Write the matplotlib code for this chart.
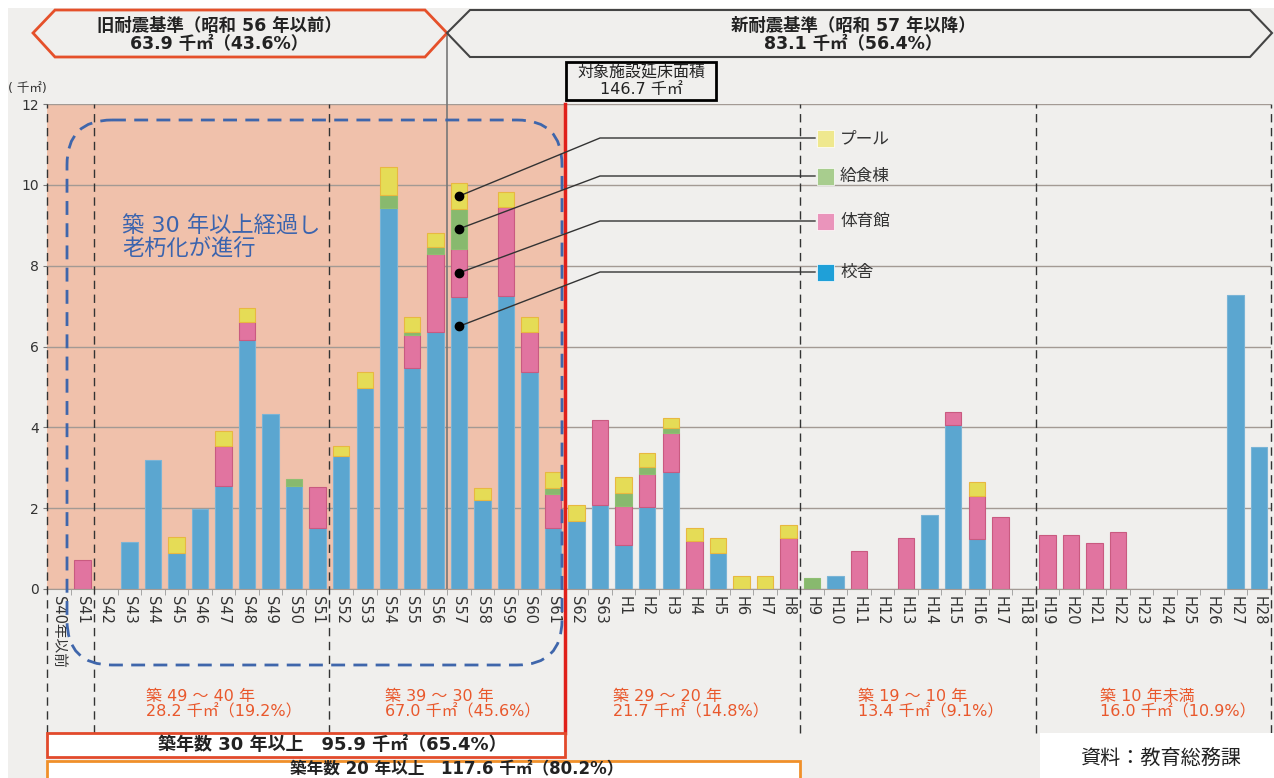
import matplotlib.pyplot as plt
from matplotlib.patches import Polygon, Rectangle, FancyBboxPatch
import numpy as np

plt.rcParams['font.family'] = ['DejaVu Sans', 'Noto Sans CJK JP']

# ---- data (千㎡) ----
years = ['S40年以前', 'S41', 'S42', 'S43', 'S44', 'S45', 'S46', 'S47', 'S48', 'S49',
         'S50', 'S51', 'S52', 'S53', 'S54', 'S55', 'S56', 'S57', 'S58', 'S59',
         'S60', 'S61', 'S62', 'S63', 'H1', 'H2', 'H3', 'H4', 'H5', 'H6',
         'H7', 'H8', 'H9', 'H10', 'H11', 'H12', 'H13', 'H14', 'H15', 'H16',
         'H17', 'H18', 'H19', 'H20', 'H21', 'H22', 'H23', 'H24', 'H25', 'H26',
         'H27', 'H28']
kosha = [0, 0, 0, 1.17, 3.20, 0.90, 1.98, 2.55, 6.16, 4.34,
         2.56, 1.51, 3.28, 4.98, 9.43, 5.47, 6.35, 7.22, 2.19, 7.25,
         5.37, 1.51, 1.69, 2.07, 1.10, 2.02, 2.90, 0, 0.88, 0,
         0, 0, 0, 0.31, 0, 0, 0, 1.82, 4.07, 1.23,
         0, 0, 0, 0, 0, 0, 0, 0, 0, 0,
         7.27, 3.52]
taiikukan = [0, 0.72, 0, 0, 0, 0, 0, 0.99, 0.44, 0,
             0, 1.01, 0, 0, 0, 0.81, 1.93, 1.20, 0, 2.19,
             0.99, 0.84, 0, 2.12, 0.96, 0.83, 0.96, 1.18, 0, 0,
             0, 1.25, 0, 0, 0.93, 0, 1.26, 0, 0.32, 1.08,
             1.77, 0, 1.33, 1.33, 1.13, 1.41, 0, 0, 0, 0,
             0, 0]
kyushoku = [0, 0, 0, 0, 0, 0, 0, 0, 0, 0,
            0.17, 0, 0, 0, 0.31, 0.08, 0.19, 0.98, 0, 0,
            0, 0.15, 0, 0, 0.32, 0.18, 0.12, 0, 0, 0,
            0, 0, 0.26, 0, 0, 0, 0, 0, 0, 0,
            0, 0, 0, 0, 0, 0, 0, 0, 0, 0,
            0, 0]
pool = [0, 0, 0, 0, 0, 0.38, 0, 0.38, 0.35, 0,
        0, 0, 0.27, 0.39, 0.70, 0.38, 0.33, 0.64, 0.31, 0.38,
        0.37, 0.40, 0.38, 0, 0.40, 0.34, 0.26, 0.33, 0.39, 0.33,
        0.33, 0.33, 0, 0, 0, 0, 0, 0, 0, 0.33,
        0, 0, 0, 0, 0, 0, 0, 0, 0, 0,
        0, 0]

# name, values, face, edge, legend swatch
series = [('校舎', kosha, '#5ba6d0', '#7ab4d6', '#1fa0d8'),
          ('体育館', taiikukan, '#e174a0', '#c95a80', '#ea94bb'),
          ('給食棟', kyushoku, '#88b96e', '#8fbf72', '#a8cd8e'),
          ('プール', pool, '#e5dc56', '#e8b840', '#efe88e')]

age_groups = [('築 49 ～ 40 年', '28.2 千㎡（19.2%）'),
              ('築 39 ～ 30 年', '67.0 千㎡（45.6%）'),
              ('築 29 ～ 20 年', '21.7 千㎡（14.8%）'),
              ('築 19 ～ 10 年', '13.4 千㎡（9.1%）'),
              ('築 10 年未満', '16.0 千㎡（10.9%）')]

W, H = 1274, 778
fig = plt.figure(figsize=(W / 100, H / 100), dpi=100)
fig.patch.set_facecolor('white')

# background panel
bg = fig.add_axes([0, 0, 1, 1], zorder=0)
bg.set_xlim(0, W); bg.set_ylim(H, 0); bg.axis('off')
bg.add_patch(Rectangle((8, 8), W - 8, H - 8, color='#f0efed', lw=0))

# ---- main bar chart ----
ax = fig.add_axes([47 / W, (H - 589) / H, (1271 - 47) / W, (589 - 104) / H], zorder=1)
ax.patch.set_alpha(0)
x = np.arange(len(years))
ax.set_xlim(-0.5, len(years) - 0.5)
ax.set_ylim(0, 12)
ax.axvspan(-0.5, 21.5, color='#f0c1ab', lw=0, zorder=0)

bottom = np.zeros(len(years))
for name, vals, fc, ec, _ in series:
    vals = np.array(vals)
    m = vals > 0
    ax.bar(x[m], vals[m], 0.7, bottom=bottom[m], color=fc, edgecolor=ec, lw=0.8, zorder=2)
    bottom += vals

ax.set_yticks(range(0, 13, 2))
ax.yaxis.grid(True, color='#a39a94', lw=1)
ax.set_axisbelow(True)
for s in ['top', 'right', 'left']:
    ax.spines[s].set_visible(False)
ax.spines['bottom'].set_color('#a39a94')
ax.tick_params(axis='y', length=3, color='#777', labelsize=10, labelcolor='#333', pad=3)
ax.set_xticks(x)
ax.set_xticklabels(years, rotation=-90, fontsize=10.5, color='#333')
ax.tick_params(axis='x', length=0, pad=5)
ax.set_xticks(np.arange(-0.5, len(years), 1), minor=True)
ax.tick_params(axis='x', which='minor', length=4, color='#999')

# section dividers
lo = (589 - 733) / (589 - 104)
for xv in [-0.5, 1.5, 11.5, 31.5, 41.5, 51.5]:
    ax.axvline(xv, ymin=lo, ymax=1, color='#333', lw=1, ls=(0, (6, 4)), clip_on=False, zorder=3)
ax.axvline(21.5, ymin=lo, ymax=1, color='#e0201a', lw=2.5, clip_on=False, zorder=4)
ax.axvline(16.5, ymin=0, ymax=(589 - 33) / (589 - 104), color='#777', lw=1.2, clip_on=False, zorder=1)

# ---- overlay in pixel coordinates ----
ov = fig.add_axes([0, 0, 1, 1], zorder=3)
ov.set_xlim(0, W); ov.set_ylim(H, 0); ov.axis('off'); ov.patch.set_alpha(0)


def to_px(xd, yd):
    return ov.transData.inverted().transform(ax.transData.transform((xd, yd)))


# header arrows
ov.add_patch(Polygon([(33, 33), (55, 10), (425, 10), (447, 33), (425, 57), (55, 57)],
                     closed=True, fill=False, ec='#e5502a', lw=2))
ov.add_patch(Polygon([(447, 33), (470, 10), (1250, 10), (1272, 33), (1250, 57), (470, 57)],
                     closed=True, fill=False, ec='#444', lw=1.5))
hdr = dict(ha='center', va='center', fontsize=12.5, fontweight='bold', color='#222')
ov.text(219, 26, '旧耐震基準（昭和 56 年以前）', **hdr)
ov.text(219, 44, '63.9 千㎡（43.6%）', **hdr)
ov.text(853, 26, '新耐震基準（昭和 57 年以降）', **hdr)
ov.text(853, 44, '83.1 千㎡（56.4%）', **hdr)

ov.add_patch(Rectangle((566, 62), 150, 38, fc='#f0efed', ec='black', lw=2))
ov.text(641, 73, '対象施設延床面積', ha='center', va='center', fontsize=11.5, color='#222')
ov.text(641, 89, '146.7 千㎡', ha='center', va='center', fontsize=11.5, color='#222')
ov.text(8, 88, '( 千㎡)', ha='left', va='center', fontsize=9, color='#333')

# aging highlight
ov.add_patch(FancyBboxPatch((67, 120), 495, 545, boxstyle='round,pad=0,rounding_size=45',
                            fill=False, ec='#3f66ab', lw=2, ls=(0, (5, 3))))
ov.text(122, 238, '築 30 年以上経過し\n老朽化が進行', ha='left', va='center', fontsize=16,
        color='#3b64ae', linespacing=1.1)

# legend with leader lines from the S57 bar
i57 = years.index('S57')
base = 0
leg_y = {'校舎': 272, '体育館': 221, '給食棟': 176, 'プール': 138}
for name, vals, fc, ec, lc in series:
    v = vals[i57]
    yd = base + v * 0.9 if name == '校舎' else base + v / 2
    base += v
    px0, py0 = to_px(i57, yd)
    ly = leg_y[name]
    ov.plot([px0, 600, 815], [py0, ly, ly], color='#333', lw=1)
    ov.plot(px0, py0, 'o', color='black', ms=6)
    ov.add_patch(Rectangle((817, ly - 8), 17, 17, fc=lc, ec='white', lw=0.5))
    ov.text(840, ly, name, ha='left', va='center', fontsize=12, color='#333')

# age group notes
gx = [146, 385, 613, 858, 1100]
for (l1, l2), gxi in zip(age_groups, gx):
    ov.text(gxi, 696, l1, ha='left', va='center', fontsize=11.5, color='#e9582c')
    ov.text(gxi, 712, l2, ha='left', va='center', fontsize=11.5, color='#e9582c')

# summary boxes
x0 = to_px(-0.5, 0)[0]
x30 = to_px(21.5, 0)[0]
x20 = to_px(31.5, 0)[0]
ov.add_patch(Rectangle((x0, 733), x30 - x0, 24, fc='white', ec='#e24a2b', lw=2))
ov.text(332, 745, '築年数 30 年以上　95.9 千㎡（65.4%）', ha='center', va='center',
        fontsize=13, fontweight='bold', color='#222')
ov.add_patch(Rectangle((x0, 761), x20 - x0, 30, fc='white', ec='#f0902a', lw=2))
ov.text(457, 769, '築年数 20 年以上　117.6 千㎡（80.2%）', ha='center', va='center',
        fontsize=12, fontweight='bold', color='#222')

ov.add_patch(Rectangle((1040, 733), 240, 50, fc='white', ec='none'))
ov.text(1080, 758, '資料：教育総務課', ha='left', va='center', fontsize=14.5, color='#222')

fig.savefig('out.png', dpi=100)
